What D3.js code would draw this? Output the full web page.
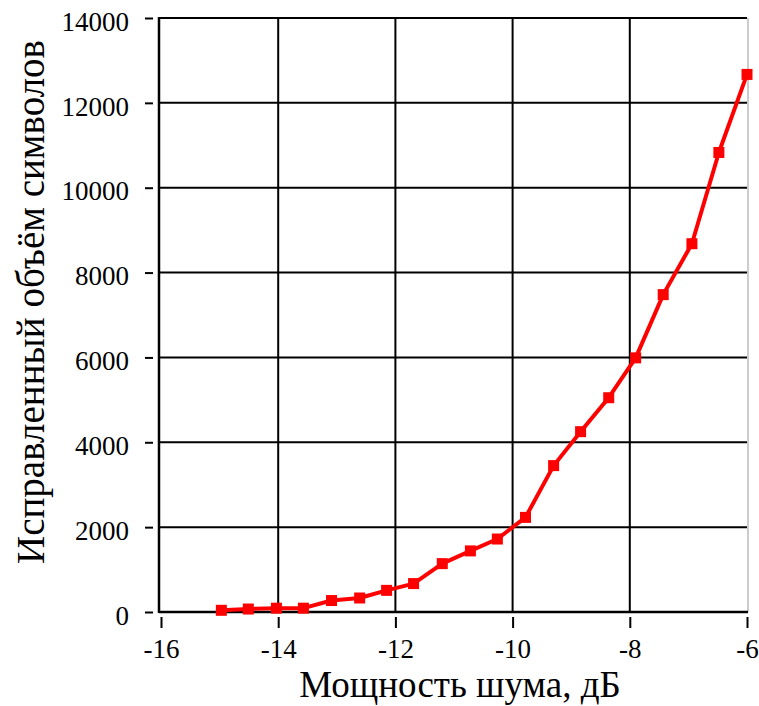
<!DOCTYPE html>
<html>
<head>
<meta charset="utf-8">
<script src="https://cdn.jsdelivr.net/npm/d3@7"></script>
<style>
  html, body { margin: 0; padding: 0; background: #fff; }
  svg { display: block; }
  text { font-family: "Liberation Serif", "Times New Roman", serif; fill: #000; }
</style>
</head>
<body>
<svg id="chart" width="759" height="706"></svg>
<script>
// Noise power (dB) and corrected symbol count
const noisePower = [-14.97, -14.51, -14.03, -13.57, -13.09, -12.61, -12.15, -11.69, -11.20, -10.72,
                    -10.26, -9.78, -9.30, -8.84, -8.36, -7.90, -7.43, -6.94, -6.48, -6.0];
const correctedSymbols = [40, 70, 90, 90, 270, 330, 510, 670, 1140, 1440,
                          1720, 2230, 3450, 4250, 5050, 5990, 7480, 8680, 10830, 12670];
const xTicks = [-16, -14, -12, -10, -8, -6];
const yTicks = [0, 2000, 4000, 6000, 8000, 10000, 12000, 14000];
const xTitle = 'Мощность шума, дБ';
const yTitle = 'Исправленный объём символов';

const SERIF = 'Liberation Serif, Times New Roman, serif';
const svg = d3.select('#chart');
const plotL = 159, plotR = 748, plotT = 18, plotB = 612;

const x = d3.scaleLinear().domain([-16, -6]).range([161, 747]);
const y = d3.scaleLinear().domain([0, 14000]).range([plotB, plotT]);

// grid
const grid = svg.append('g');
grid.selectAll('line.v').data(xTicks.filter(function(d) { return d > -16 && d < -6; }))
  .join('line')
  .attr('x1', function(d) { return x(d); }).attr('x2', function(d) { return x(d); })
  .attr('y1', plotT).attr('y2', plotB)
  .attr('stroke', '#000').attr('stroke-width', 2);
grid.selectAll('line.h').data(yTicks.filter(function(d) { return d > 0; }))
  .join('line')
  .attr('x1', plotL).attr('x2', plotR - 1)
  .attr('y1', function(d) { return y(d); }).attr('y2', function(d) { return y(d); })
  .attr('stroke', '#000').attr('stroke-width', 2);

// frame: right edge thin grey, left and bottom black
svg.append('line').attr('x1', plotR).attr('x2', plotR).attr('y1', plotT).attr('y2', plotB)
  .attr('stroke', '#999').attr('stroke-width', 1);
svg.append('line').attr('x1', plotL).attr('x2', plotL).attr('y1', plotT - 1).attr('y2', plotB + 1)
  .attr('stroke', '#000').attr('stroke-width', 2.5);
svg.append('line').attr('x1', plotL).attr('x2', plotR).attr('y1', plotB).attr('y2', plotB)
  .attr('stroke', '#000').attr('stroke-width', 2.5);

// axes
const xAxis = svg.append('g').attr('transform', 'translate(0,617)')
  .call(d3.axisBottom(x).tickValues(xTicks).tickSize(11).tickPadding(11)
    .tickFormat(function(d) { return d; }));
xAxis.attr('font-family', SERIF).attr('font-size', 27);
xAxis.select('.domain').remove();
xAxis.selectAll('line').attr('stroke', '#000').attr('stroke-width', 2);
xAxis.selectAll('text').attr('font-family', SERIF).attr('font-size', 27);

const yAxis = svg.append('g').attr('transform', 'translate(153,0)')
  .call(d3.axisLeft(y).tickValues(yTicks).tickSize(8).tickPadding(16)
    .tickFormat(function(d) { return d; }));
yAxis.attr('font-family', SERIF).attr('font-size', 27);
yAxis.select('.domain').remove();
yAxis.selectAll('line').attr('stroke', '#000').attr('stroke-width', 2);
yAxis.selectAll('text').attr('font-family', SERIF).attr('font-size', 27).attr('dy', '0.45em');

// series
const pts = noisePower.map(function(v, i) { return [v, correctedSymbols[i]]; });
svg.append('path').datum(pts)
  .attr('fill', 'none').attr('stroke', '#ff0000').attr('stroke-width', 4)
  .attr('stroke-linejoin', 'round')
  .attr('d', d3.line().x(function(d) { return x(d[0]); }).y(function(d) { return y(d[1]); }));
svg.append('g').selectAll('rect').data(pts).join('rect')
  .attr('x', function(d) { return x(d[0]) - 5.5; })
  .attr('y', function(d) { return y(d[1]) - 5.5; })
  .attr('width', 11).attr('height', 11)
  .attr('fill', '#ff0000');

// titles
svg.append('text').attr('x', 460).attr('y', 697)
  .attr('text-anchor', 'middle').attr('font-family', SERIF).attr('font-size', 37).text(xTitle);
svg.append('text').attr('transform', 'translate(44,302) rotate(-90)')
  .attr('text-anchor', 'middle').attr('font-family', SERIF).attr('font-size', 39).text(yTitle);
</script>
</body>
</html>
